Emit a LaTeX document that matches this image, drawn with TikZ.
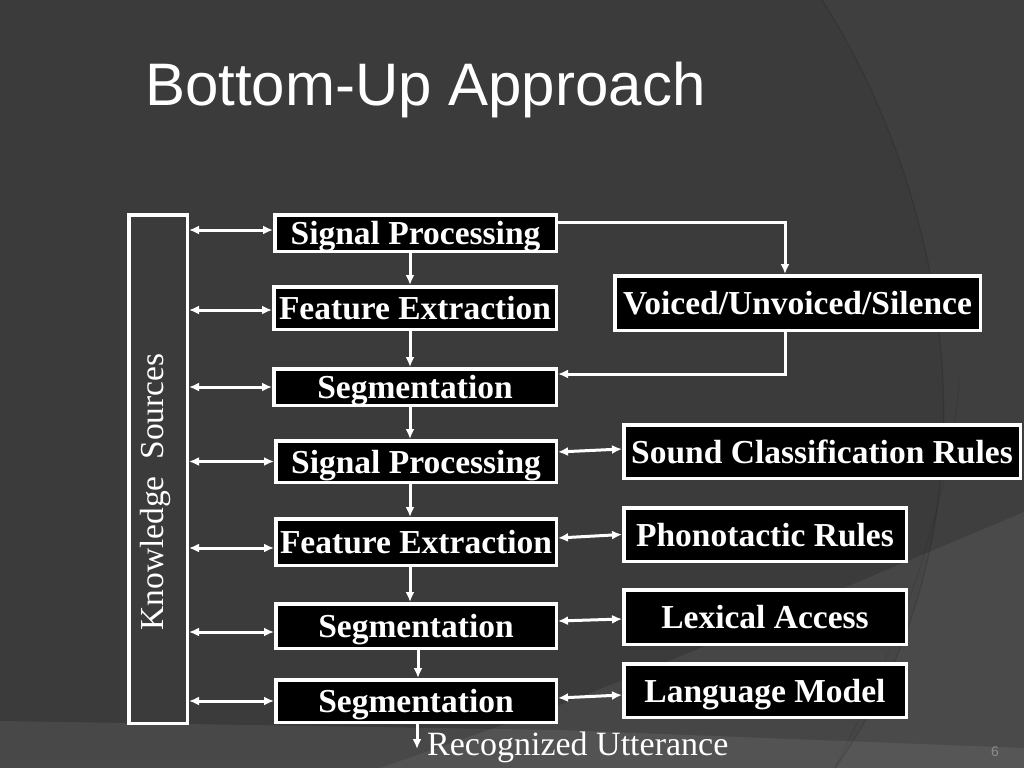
\documentclass[tikz,border=0pt]{standalone}
\usepackage{fontspec}
\setmainfont{Liberation Serif}
\newfontfamily\titlefont{Liberation Sans}
\usetikzlibrary{arrows.meta,calc}
\definecolor{bgbase}{HTML}{3B3B3B}
\definecolor{pagenum}{HTML}{8C8C8C}
\tikzset{
  boxst/.style={draw=white, line width=3.5pt, fill=black, text=white, inner sep=0pt,
    text height=24pt, text depth=1pt,
    font=\fontsize{33.5}{40}\selectfont\bfseries, align=center},
  conn/.style={draw=white, line width=3pt, -{Latex[length=10pt,width=9pt]}},
  dconn/.style={draw=white, line width=3pt, {Latex[length=10pt,width=9pt]}-{Latex[length=10pt,width=9pt]}},
}
\begin{document}
\begin{tikzpicture}[x=1pt,y=-1pt]
\useasboundingbox (0,0) rectangle (1024,768);
% background
\fill[bgbase] (0,0) rectangle (1024,768);
\fill[white,opacity=0.025] (822,0) .. controls (950,200) and (1010,520) .. (835,768) -- (1024,768) -- (1024,0) -- cycle;
\fill[white,opacity=0.06] (1024,512) .. controls (850,585) and (700,650) .. (560,705) -- (380,768) -- (1024,768) -- cycle;
\fill[white,opacity=0.07] (0,721) -- (560,730) -- (1024,748) -- (1024,768) -- (0,768) -- cycle;
\draw[black,opacity=0.12,line width=1.2pt] (822,0) .. controls (950,200) and (1010,520) .. (835,768);
\draw[black,opacity=0.08,line width=1pt] (960,380) .. controls (945,520) and (900,640) .. (835,768);

% title
\node[anchor=base west, inner sep=0pt, text=white, font=\titlefont\fontsize{60}{70}\selectfont] (title) at (145,105) {Bottom-Up Approach};

% knowledge sources
\node[draw=white, line width=3.5pt, minimum width=58.5pt, minimum height=508.5pt, inner sep=0pt] (ks) at (158,469) {};
\node[rotate=90, text=white, inner sep=0pt, font=\fontsize{33.5}{40}\selectfont] (kst) at (155,492) {Knowledge\ \ Sources};

% left column
\node[boxst, minimum width=281.5pt, minimum height=36.5pt] (sp1) at (415.5,233) {Signal Processing};
\node[boxst, minimum width=282.5pt, minimum height=42.5pt] (fe1) at (415,308) {Feature Extraction};
\node[boxst, minimum width=282.5pt, minimum height=36.5pt] (seg1) at (415,387) {Segmentation};
\node[boxst, minimum width=280.5pt, minimum height=41.5pt] (sp2) at (416,461.5) {Signal Processing};
\node[boxst, minimum width=280.5pt, minimum height=46.5pt] (fe2) at (416,542) {Feature Extraction};
\node[boxst, minimum width=280.5pt, minimum height=44.5pt] (seg2) at (416,626) {Segmentation};
\node[boxst, minimum width=280.5pt, minimum height=42.5pt] (seg3) at (416,701) {Segmentation};

% right column
\node[boxst, minimum width=365.5pt, minimum height=54.5pt] (vus) at (797.5,303) {Voiced/Unvoiced/Silence};
\node[boxst, minimum width=396.5pt, minimum height=53.5pt] (scr) at (822,451.5) {Sound Classification Rules};
\node[boxst, minimum width=282.5pt, minimum height=53.5pt] (pr) at (765,534.5) {Phonotactic Rules};
\node[boxst, minimum width=282.5pt, minimum height=54.5pt] (la) at (765,617) {Lexical Access};
\node[boxst, minimum width=282.5pt, minimum height=53.5pt] (lm) at (765,690.5) {Language Model};

% output
\node[anchor=base west, inner sep=0pt, text=white, font=\fontsize{34}{40}\selectfont] (ru) at (427,755) {Recognized Utterance};
\node[text=pagenum, inner sep=0pt, font=\titlefont\fontsize{14}{16}\selectfont] (pg) at (995,752) {6};

% knowledge source links
\path ([yshift=3pt]sp1.west) coordinate (k1)
      ([yshift=-2pt]fe1.west) coordinate (k2)
      (seg1.west) coordinate (k3)
      (sp2.west) coordinate (k4)
      ([yshift=-6pt]fe2.west) coordinate (k5)
      ([yshift=-6pt]seg2.west) coordinate (k6)
      (seg3.west) coordinate (k7);
\foreach \k in {k1,k2,k3,k4,k5,k6,k7}{
  \draw[dconn] (ks.east |- \k) -- (\k);
}

% vertical flow
\draw[conn] ([xshift=-5.5pt]sp1.south) -- ([xshift=-5.5pt]sp1.south |- fe1.north);
\draw[conn] ([xshift=-5pt]fe1.south) -- ([xshift=-5pt]fe1.south |- seg1.north);
\draw[conn] ([xshift=-5pt]seg1.south) -- ([xshift=-5pt]seg1.south |- sp2.north);
\draw[conn] ([xshift=-6pt]sp2.south) -- ([xshift=-6pt]sp2.south |- fe2.north);
\draw[conn] ([xshift=-6pt]fe2.south) -- ([xshift=-6pt]fe2.south |- seg2.north);
\draw[conn] ([xshift=2pt]seg2.south) -- ([xshift=2pt]seg2.south |- seg3.north);
\coordinate (out) at (417,749);
\draw[conn] (seg3.south -| out) -- (out);

% voiced / unvoiced branch
\draw[conn] ([yshift=11pt]sp1.east) -| ([xshift=-12.5pt]vus.north);
\draw[conn] ([xshift=-12.5pt]vus.south) |- ([yshift=13pt]seg1.east);

% rule links
\draw[dconn] ([yshift=9.5pt]sp2.east) -- ([yshift=2.5pt]scr.west);
\draw[dconn] ([yshift=4pt]fe2.east) -- (pr.west);
\draw[dconn] ([yshift=5pt]seg2.east) -- ([yshift=-2pt]la.west);
\draw[dconn] ([yshift=3pt]seg3.east) -- ([yshift=-4.5pt]lm.west);
\end{tikzpicture}
\end{document}
